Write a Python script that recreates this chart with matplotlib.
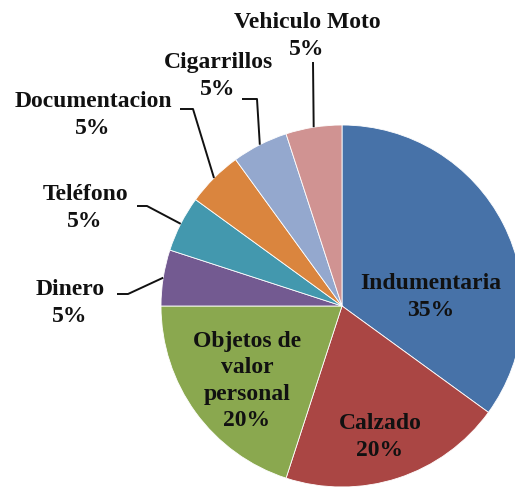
import matplotlib
matplotlib.use("Agg")
import matplotlib.pyplot as plt
import numpy as np

categories = ["Indumentaria", "Calzado", "Objetos de\nvalor\npersonal", "Dinero",
              "Teléfono", "Documentacion", "Cigarrillos", "Vehiculo Moto"]
values = [35, 20, 20, 5, 5, 5, 5, 5]
colors = ["#4772A8", "#AA4644", "#8AA84F", "#735A91", "#4398AE", "#DA853E", "#94A8CE", "#D09392"]

W, H = 515, 489
fig = plt.figure(figsize=(W / 100, H / 100), dpi=100)
ax = fig.add_axes([0, 0, 1, 1])

cx, cy, R = 342, H - 307, 181
wedges, _ = ax.pie(values, colors=colors, startangle=90, counterclock=False,
                   center=(cx, cy), radius=R, frame=True,
                   wedgeprops=dict(edgecolor="white", linewidth=0.6))
ax.set_xlim(0, W)
ax.set_ylim(0, H)
ax.set_aspect("equal")
ax.axis("off")

font = dict(family="Liberation Serif", fontweight="bold", fontsize=17, color="#111111",
            ha="center", va="center", linespacing=1.33)

# inside labels (pixel positions of label centres)
inside = {0: (431, 297), 1: (380, 437), 2: (247, 381)}
# outside labels and the elbow of their leader lines
outside = {3: ((70, 303), (117, 295), (128, 295)),
           4: ((85, 208), (137, 207), (147, 207)),
           5: ((93, 115), (180, 110), (193, 110)),
           6: ((218, 76), (242, 100), (257, 100)),
           7: ((307, 36), None, (313, 63))}

for i, w in enumerate(wedges):
    label = f"{categories[i]}\n{values[i]}%"
    if i in inside:
        px, py = inside[i]
        ax.text(px, H - py, label, **font)
    else:
        (px, py), a, b = outside[i]
        ax.text(px, H - py, label, **font)
        ang = np.deg2rad((w.theta1 + w.theta2) / 2)
        ex, ey = cx + R * np.cos(ang), cy + R * np.sin(ang)
        xs, ys = [], []
        if a is not None:
            xs.append(a[0]); ys.append(H - a[1])
        xs.append(b[0]); ys.append(H - b[1])
        xs.append(ex); ys.append(ey)
        ax.plot(xs, ys, color="#111111", lw=1.4, solid_capstyle="butt")

fig.savefig("out.png", dpi=100)
